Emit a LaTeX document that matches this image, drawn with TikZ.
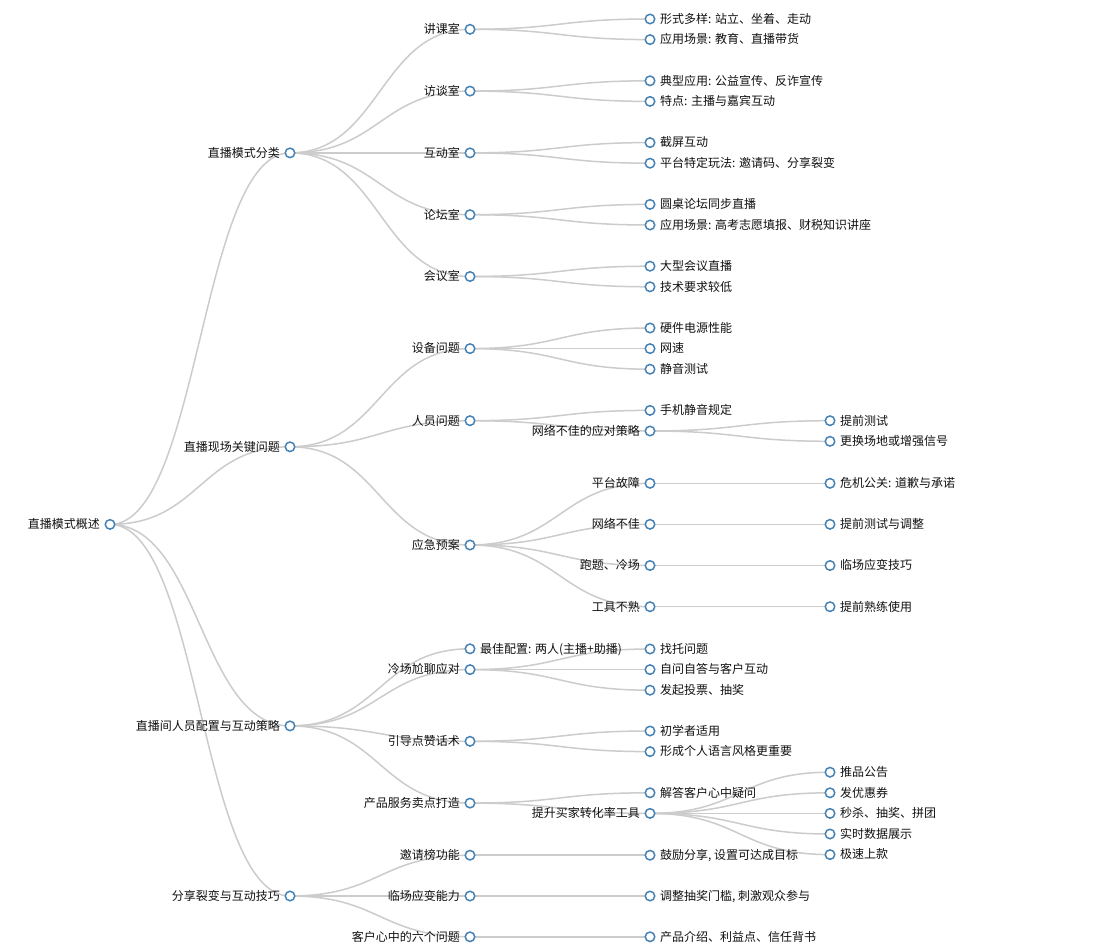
\documentclass[tikz,border=0pt]{standalone}
\usepackage{fontspec}
\setmainfont{Noto Sans CJK SC}
\usetikzlibrary{calc,backgrounds}
\definecolor{lk}{HTML}{CCCCCC}
\definecolor{nd}{HTML}{4682B4}
\definecolor{tx}{HTML}{111111}
\tikzset{
  circ/.style={circle,draw=nd,line width=1.5pt,fill=white,minimum size=9.5pt,inner sep=0pt},
  txt/.style={inner sep=0pt,text height=9.6pt,text depth=1pt,text=tx,font=\fontsize{12}{14}\selectfont},
  txtL/.style={txt,anchor=east},
  txtR/.style={txt,anchor=west},
  link/.style={draw=lk,line width=1.5pt}
}
\newcommand\NL[4]{\node[circ] (#1) at (#2,#3) {}; \node[txtL] (#1-t) at ([xshift=-10pt]#1.center) {#4};}
\newcommand\NR[4]{\node[circ] (#1) at (#2,#3) {}; \node[txtR] (#1-t) at ([xshift=10pt]#1.center) {#4};}
\newcommand\lnk[2]{\draw[link] let \p1=(#1.center), \p2=(#2.center) in (\p1) .. controls ({(\x1+\x2)/2},\y1) and ({(\x1+\x2)/2},\y2) .. (\p2);}
\begin{document}
\begin{tikzpicture}[x=1pt,y=-1pt]
\useasboundingbox (0,0) rectangle (1102,952);
% root
\NL{r}{110}{524.4}{直播模式概述}
% depth 1
\NL{A}{290}{152.9}{直播模式分类}
\NL{B}{290}{446.8}{直播现场关键问题}
\NL{C}{290}{725.9}{直播间人员配置与互动策略}
\NL{D}{290}{896}{分享裂变与互动技巧}
% A
\NL{A1}{470}{29.3}{讲课室}
\NL{A2}{470}{91.1}{访谈室}
\NL{A3}{470}{152.9}{互动室}
\NL{A4}{470}{214.7}{论坛室}
\NL{A5}{470}{276.5}{会议室}
\NR{A1a}{650}{19}{形式多样: 站立、坐着、走动}
\NR{A1b}{650}{39.6}{应用场景: 教育、直播带货}
\NR{A2a}{650}{80.8}{典型应用: 公益宣传、反诈宣传}
\NR{A2b}{650}{101.4}{特点: 主播与嘉宾互动}
\NR{A3a}{650}{142.6}{截屏互动}
\NR{A3b}{650}{163.2}{平台特定玩法: 邀请码、分享裂变}
\NR{A4a}{650}{204.4}{圆桌论坛同步直播}
\NR{A4b}{650}{225}{应用场景: 高考志愿填报、财税知识讲座}
\NR{A5a}{650}{266.2}{大型会议直播}
\NR{A5b}{650}{286.8}{技术要求较低}
% B
\NL{B1}{470}{348.6}{设备问题}
\NL{B2}{470}{420.7}{人员问题}
\NL{B3}{470}{545}{应急预案}
\NR{B1a}{650}{328}{硬件电源性能}
\NR{B1b}{650}{348.6}{网速}
\NR{B1c}{650}{369.2}{静音测试}
\NR{B2a}{650}{410.4}{手机静音规定}
\NL{B2b}{650}{431}{网络不佳的应对策略}
\NR{B2b1}{830}{420.7}{提前测试}
\NR{B2b2}{830}{441.3}{更换场地或增强信号}
\NL{B3a}{650}{483.3}{平台故障}
\NL{B3b}{650}{524.3}{网络不佳}
\NL{B3c}{650}{565.5}{跑题、冷场}
\NL{B3d}{650}{606.7}{工具不熟}
\NR{B3a1}{830}{483.3}{危机公关: 道歉与承诺}
\NR{B3b1}{830}{524.3}{提前测试与调整}
\NR{B3c1}{830}{565.5}{临场应变技巧}
\NR{B3d1}{830}{606.7}{提前熟练使用}
% C
\NR{C0}{470}{648.8}{最佳配置: 两人(主播+助播)}
\NL{C1}{470}{669.6}{冷场尬聊应对}
\NL{C2}{470}{741.3}{引导点赞话术}
\NL{C3}{470}{803.1}{产品服务卖点打造}
\NR{C1a}{650}{649}{找托问题}
\NR{C1b}{650}{669.6}{自问自答与客户互动}
\NR{C1c}{650}{690.2}{发起投票、抽奖}
\NR{C2a}{650}{731}{初学者适用}
\NR{C2b}{650}{751.6}{形成个人语言风格更重要}
\NR{C3a}{650}{792.8}{解答客户心中疑问}
\NL{C3b}{650}{813.4}{提升买家转化率工具}
\NR{C3b1}{830}{772.2}{推品公告}
\NR{C3b2}{830}{792.8}{发优惠券}
\NR{C3b3}{830}{813.4}{秒杀、抽奖、拼团}
\NR{C3b4}{830}{834}{实时数据展示}
\NR{C3b5}{830}{854.6}{极速上款}
% D
\NL{D1}{470}{855.2}{邀请榜功能}
\NL{D2}{470}{896}{临场应变能力}
\NL{D3}{470}{936.8}{客户心中的六个问题}
\NR{D1a}{650}{855.2}{鼓励分享, 设置可达成目标}
\NR{D2a}{650}{896}{调整抽奖门槛, 刺激观众参与}
\NR{D3a}{650}{936.8}{产品介绍、利益点、信任背书}
\begin{pgfonlayer}{background}
\fill[white] (0,0) rectangle (1102,952);
\lnk{r}{A}\lnk{r}{B}\lnk{r}{C}\lnk{r}{D}
\lnk{A}{A1}\lnk{A}{A2}\lnk{A}{A3}\lnk{A}{A4}\lnk{A}{A5}
\lnk{A1}{A1a}\lnk{A1}{A1b}\lnk{A2}{A2a}\lnk{A2}{A2b}
\lnk{A3}{A3a}\lnk{A3}{A3b}\lnk{A4}{A4a}\lnk{A4}{A4b}
\lnk{A5}{A5a}\lnk{A5}{A5b}
\lnk{B}{B1}\lnk{B}{B2}\lnk{B}{B3}
\lnk{B1}{B1a}\lnk{B1}{B1b}\lnk{B1}{B1c}
\lnk{B2}{B2a}\lnk{B2}{B2b}\lnk{B2b}{B2b1}\lnk{B2b}{B2b2}
\lnk{B3}{B3a}\lnk{B3}{B3b}\lnk{B3}{B3c}\lnk{B3}{B3d}
\lnk{B3a}{B3a1}\lnk{B3b}{B3b1}\lnk{B3c}{B3c1}\lnk{B3d}{B3d1}
\lnk{C}{C0}\lnk{C}{C1}\lnk{C}{C2}\lnk{C}{C3}
\lnk{C1}{C1a}\lnk{C1}{C1b}\lnk{C1}{C1c}
\lnk{C2}{C2a}\lnk{C2}{C2b}
\lnk{C3}{C3a}\lnk{C3}{C3b}
\lnk{C3b}{C3b1}\lnk{C3b}{C3b2}\lnk{C3b}{C3b3}\lnk{C3b}{C3b4}\lnk{C3b}{C3b5}
\lnk{D}{D1}\lnk{D}{D2}\lnk{D}{D3}
\lnk{D1}{D1a}\lnk{D2}{D2a}\lnk{D3}{D3a}
\end{pgfonlayer}
\end{tikzpicture}
\end{document}
